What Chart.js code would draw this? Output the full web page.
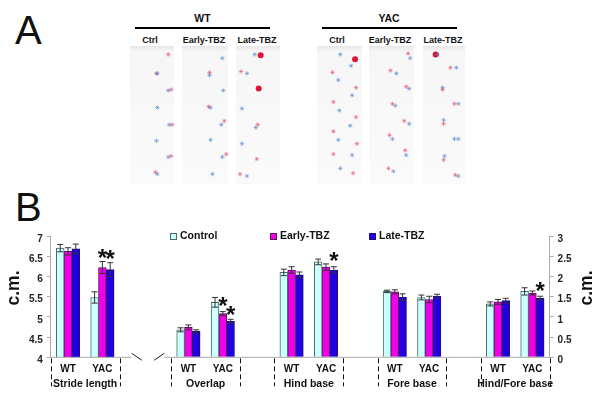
<!DOCTYPE html>
<html><head><meta charset="utf-8">
<script src="https://cdn.jsdelivr.net/npm/chart.js@4"></script>
<style>
html,body{margin:0;padding:0;background:#fff;width:600px;height:400px;overflow:hidden}
#wrap{position:relative;width:600px;height:400px;font-family:"Liberation Sans",Arial,sans-serif}
canvas{position:absolute;left:0}
.t{position:absolute;font-weight:bold;font-size:9px;color:#111;white-space:nowrap;transform:translateX(-50%)}
.big{position:absolute;font-size:40px;color:#111;line-height:40px}
.rule{position:absolute;height:2px;background:#000}
.strip{position:absolute;top:46px;height:138px;background:linear-gradient(#e6e6e6 0,#f6f6f6 5px,#fafafa 100%)}
</style></head><body>
<div id="wrap">
<div class="big" style="left:15px;top:10px">A</div>
<div class="big" style="left:15px;top:187px">B</div>
<div class="t" style="left:202.5px;top:12px;font-size:10.5px">WT</div>
<div class="t" style="left:389px;top:12px;font-size:10.5px">YAC</div>
<div class="rule" style="left:135px;top:27px;width:135px"></div>
<div class="rule" style="left:322px;top:27px;width:135px"></div>
<div class="t" style="left:150px;top:35px">Ctrl</div>
<div class="t" style="left:204px;top:35px">Early-TBZ</div>
<div class="t" style="left:257px;top:35px">Late-TBZ</div>
<div class="t" style="left:337px;top:35px">Ctrl</div>
<div class="t" style="left:390px;top:35px">Early-TBZ</div>
<div class="t" style="left:443px;top:35px">Late-TBZ</div>
<div class="strip" style="left:130px;width:44px"></div>
<div class="strip" style="left:182px;width:46px"></div>
<div class="strip" style="left:236px;width:44px"></div>
<div class="strip" style="left:317px;width:45px"></div>
<div class="strip" style="left:369px;width:45px"></div>
<div class="strip" style="left:423px;width:42px"></div>
<canvas id="paws" width="600" height="200" style="top:0"></canvas>
<canvas id="bars" width="600" height="400" style="top:0"></canvas>
</div>
<script>
// Panel A: paw prints
const redPaws = [[166,52],[154,72],[169,89],[170,126],[169,159],[153,176],
 [208,71],[207,107],[223,122],[225,157],
 [240,70],[257,126],[256,162],[239,178],
 [333,71],[357,87],[334,102],[357,118],[334,133],[358,146],[334,157],[354,177],
 [410,51],[392,69],[408,86],[394,104],[406,122],[391,137],[407,153],[390,172],
 [453,66],[445,89],[457,104],[446,125],[446,163],[458,179]];
const bluePaws = [[155,72],[166,90],[155,108],[167,126],[154,143],[166,160],[155,178],
 [221,56],[208,74],[222,90],[209,108],[220,126],[209,142],[221,160],[211,178],
 [254,52],[246,72],[241,109],[255,129],[241,146],[246,180],
 [341,52],[352,64],[339,79],[353,95],[340,111],[351,127],[339,142],[353,158],[341,172],
 [412,56],[398,72],[411,88],[397,106],[411,125],[394,141],[408,158],[395,175],
 [440,52],[459,66],[445,87],[461,104],[446,121],[457,141],[461,141],[447,159],[461,180]];
const bigRedPaws = [[260,53],[258,88],[356,57],[438,52]];

// Panel B
const categories = ["","WT","","YAC","","","","","WT","","YAC","","","","WT","","YAC","","","","WT","","YAC","","","","WT","","YAC",""];
const seriesNames = ["Control","Early-TBZ","Late-TBZ"];
const sections = ["Stride length","Overlap","Hind base","Fore base","Hind/Fore base"];
const sectionEdges = [[0,4],[7,11],[13,17],[19,23],[25,29]];
const slots = [1,3,8,10,14,16,20,22,26,28];
const control = [6.70,5.48, 0.68,1.36, 2.10,2.36, 1.63,1.48, 1.32,1.63];
const early   = [6.62,6.22, 0.74,1.08, 2.16,2.23, 1.62,1.43, 1.37,1.59];
const late    = [6.68,6.17, 0.64,0.89, 2.04,2.16, 1.49,1.51, 1.40,1.46];
const controlErr = [0.09,0.14, 0.05,0.12, 0.08,0.07, 0.03,0.06, 0.05,0.09];
const earlyErr   = [0.09,0.15, 0.06,0.05, 0.08,0.08, 0.05,0.08, 0.06,0.05];
const lateErr    = [0.12,0.17, 0.04,0.05, 0.07,0.08, 0.08,0.05, 0.06,0.05];
// [group index, series index, value of the star's centre on its axis]
const stars = [[1,1,6.55],[1,2,6.52],[3,1,1.36],[3,2,1.14],[5,2,2.48],[9,2,1.72]];

const colors = ["#ccffff","#f000e8","#2000e0"];
const borders = ["#4a6a6a","#5a1060","#20107a"];
const FONT = '"Liberation Sans", Arial, sans-serif';

const pawSet=(list,color,r)=>({data:list.map(p=>({x:p[0],y:p[1]})),pointStyle:'star',
  borderColor:color,backgroundColor:color,pointRadius:r,borderWidth:1});
new Chart(document.getElementById('paws'),{
 type:'scatter',
 data:{datasets:[
  pawSet(bluePaws,'rgba(70,120,200,.45)',2.3),
  pawSet(redPaws,'rgba(225,50,80,.42)',2.3),
  {data:bigRedPaws.map(p=>({x:p[0],y:p[1]})),backgroundColor:'rgba(220,10,40,.95)',pointRadius:3,borderWidth:0}
 ]},
 options:{responsive:false,animation:false,layout:{padding:0},
  plugins:{legend:{display:false},tooltip:{enabled:false}},
  scales:{x:{display:false,min:0,max:600},y:{display:false,min:0,max:200,reverse:true}}}
});

function sectionData(arr,left){
 const out=categories.map(()=>null);
 slots.forEach((s,i)=>{ if((i<2)===left) out[s]=arr[i]; });
 return out;
}
const vals=[control,early,late], errs=[controlErr,earlyErr,lateErr];
const datasets=[];
[true,false].forEach(left=>{
 vals.forEach((v,k)=>datasets.push({
  label:seriesNames[k],data:sectionData(v,left),yAxisID:left?'yL':'yR',
  backgroundColor:colors[k],borderColor:borders[k],borderWidth:1,
  barThickness:7.8,skipNull:true,series:k,left:left
 }));
});

const annotate={
 id:'annotate',
 afterDatasetsDraw(c){
  const g=c.ctx,x=c.scales.x,yL=c.scales.yL,yR=c.scales.yR;
  g.save();
  // error bars
  c.data.datasets.forEach((d,di)=>{
   const meta=c.getDatasetMeta(di),sc=d.left?yL:yR;
   slots.forEach((s,i)=>{
    if(d.data[s]==null) return;
    const px=meta.data[s].x,e=errs[d.series][i],v=d.data[s];
    const a=sc.getPixelForValue(v+e),b=sc.getPixelForValue(v-e);
    g.strokeStyle='#333';g.lineWidth=1;g.beginPath();
    g.moveTo(px,a);g.lineTo(px,b);
    g.moveTo(px-3,a);g.lineTo(px+3,a);
    g.moveTo(px-3,b);g.lineTo(px+3,b);
    g.stroke();
   });
  });
  // baseline with axis break
  const base=yR.getPixelForValue(0);
  g.strokeStyle='#aaa';g.lineWidth=1;g.beginPath();
  g.moveTo(x.getPixelForValue(0),base);g.lineTo(x.getPixelForValue(4.7),base);
  g.moveTo(x.getPixelForValue(6.6),base);g.lineTo(x.getPixelForValue(29),base);
  g.stroke();
  g.strokeStyle='#222';g.beginPath();
  g.moveTo(x.getPixelForValue(4.7),base-4);g.lineTo(x.getPixelForValue(5.3),base+3);
  g.moveTo(x.getPixelForValue(6.0),base+3);g.lineTo(x.getPixelForValue(6.6),base-4);
  g.stroke();
  // section dividers and names
  g.strokeStyle='#111';g.setLineDash([5,3]);g.beginPath();
  sectionEdges.forEach(r=>r.forEach(i=>{
   const p=Math.round(x.getPixelForValue(i))+.5;
   g.moveTo(p,base+1);g.lineTo(p,base+29);
  }));
  g.stroke();g.setLineDash([]);
  g.fillStyle='#111';g.textAlign='center';g.textBaseline='middle';
  g.font='bold 10.5px '+FONT;
  sections.forEach((n,i)=>g.fillText(n,x.getPixelForValue((sectionEdges[i][0]+sectionEdges[i][1])/2),base+26.5));
  // stars
  g.font='bold 24px '+FONT;
  stars.forEach(([gi,k,v])=>{
   const px=c.getDatasetMeta((gi<2?0:3)+k).data[slots[gi]].x;
   g.fillText('*',px,(gi<2?yL:yR).getPixelForValue(v)+5);
  });
  // legend
  seriesNames.forEach((n,i)=>{
   const lx=Math.round(170+i*99.5)+.5,ly=233.5;
   g.fillStyle=colors[i];g.strokeStyle=borders[i];
   g.fillRect(lx,ly,6,6);g.strokeRect(lx,ly,6,6);
   g.fillStyle='#111';g.textAlign='left';g.font='bold 10.5px '+FONT;
   g.fillText(n,lx+9.5,ly+3);
  });
  // axis units
  g.font='bold 17.5px '+FONT;g.textAlign='center';
  [14,587].forEach(tx=>{
   g.save();g.translate(tx,288);g.rotate(-Math.PI/2);g.fillText('c.m.',0,0);g.restore();
  });
  g.restore();
 }
};
const yTicks={font:{family:FONT,size:10,weight:'bold'},color:'#222',labelOffset:3,padding:4,
 autoSkip:false,stepSize:0.5,callback:v=>String(v)};
new Chart(document.getElementById('bars'),{
 type:'bar',
 data:{labels:categories,datasets},
 plugins:[annotate],
 options:{responsive:false,animation:false,
  layout:{padding:{top:236,left:0,right:0,bottom:0}},
  plugins:{legend:{display:false},tooltip:{enabled:false}},
  scales:{
   x:{type:'category',offset:false,grid:{display:false,drawTicks:false},border:{display:false},
      ticks:{autoSkip:false,maxRotation:0,padding:6,color:'#111',font:{family:FONT,size:10,weight:'bold'}},
      afterFit(s){s.height=42.7;}},
   yL:{position:'left',min:4,max:7,grid:{drawOnChartArea:false,color:'#aaa',tickLength:4},border:{color:'#aaa'},
      ticks:yTicks,afterFit(s){s.width=50.8;}},
   yR:{position:'right',min:0,max:3,grid:{drawOnChartArea:false,color:'#aaa',tickLength:4},border:{color:'#aaa'},
      ticks:yTicks,afterFit(s){s.width=50.4;}}
  }}
});
</script>
</body></html>
